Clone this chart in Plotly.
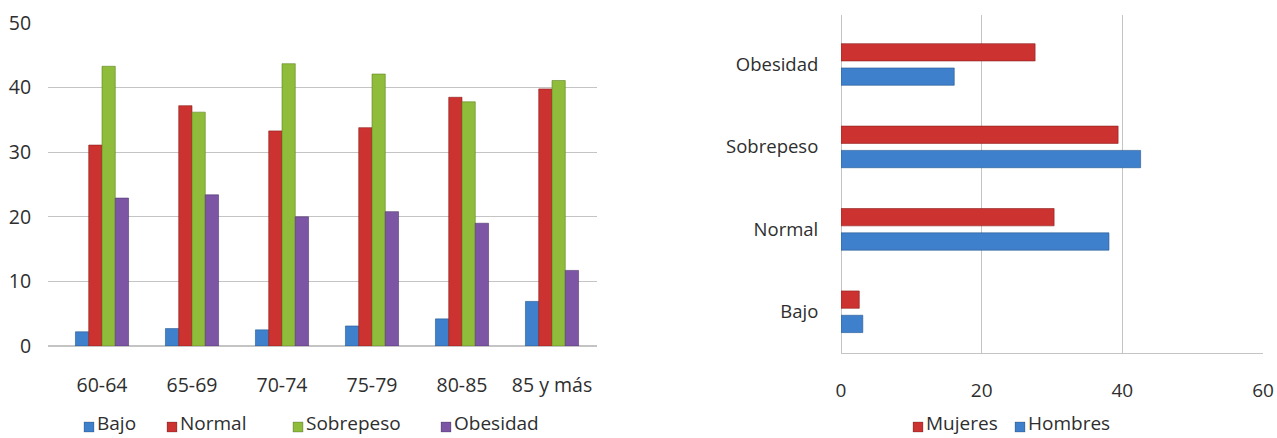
import plotly.graph_objects as go

# ---- Left chart data ----
age_groups = ["60-64", "65-69", "70-74", "75-79", "80-85", "85 y más"]
bajo = [2.2, 2.7, 2.5, 3.1, 4.2, 6.9]
normal = [31.1, 37.2, 33.3, 33.8, 38.5, 39.8]
sobrepeso = [43.3, 36.2, 43.7, 42.1, 37.8, 41.1]
obesidad = [22.9, 23.4, 20.0, 20.8, 19.0, 11.7]

# ---- Right chart data ----
bmi_categories = ["Bajo", "Normal", "Sobrepeso", "Obesidad"]
mujeres = [2.6, 30.3, 39.4, 27.6]
hombres = [3.1, 38.1, 42.6, 16.1]

C_BLUE = "#3f80cc"
C_RED = "#cc3330"
C_GREEN = "#8fbc3b"
C_PURPLE = "#7c56a5"
FONT = "Open Sans"
GRID = "#c4c4c4"
TXT = "#2e2e2e"

W, H = 1277, 438

fig = go.Figure()

left_series = [("Bajo", bajo, C_BLUE, "#24558f"),
               ("Normal", normal, C_RED, "#8c1f1c"),
               ("Sobrepeso", sobrepeso, C_GREEN, "#5f8424"),
               ("Obesidad", obesidad, C_PURPLE, "#50356f")]
for name, vals, col, edge in left_series:
    fig.add_trace(go.Bar(x=age_groups, y=vals, name=name,
                         marker=dict(color=col, line=dict(color=edge, width=0.6)),
                         xaxis="x", yaxis="y", showlegend=False))

right_series = [("Hombres", hombres, C_BLUE, "#24558f"),
                ("Mujeres", mujeres, C_RED, "#8c1f1c")]
for name, vals, col, edge in right_series:
    fig.add_trace(go.Bar(y=bmi_categories, x=vals, name=name, orientation="h", width=0.21,
                         marker=dict(color=col, line=dict(color=edge, width=0.6)),
                         xaxis="x2", yaxis="y2", showlegend=False))

fig.update_layout(
    width=W, height=H,
    margin=dict(l=0, r=0, t=0, b=0, autoexpand=False),
    paper_bgcolor="white", plot_bgcolor="white",
    font=dict(family=FONT, size=19.5, color=TXT),
    barmode="group",
    bargap=0.41, bargroupgap=0,
    xaxis=dict(domain=[48 / W, 597 / W], anchor="y", range=[-0.6, 5.5], automargin=False,
               showgrid=False, showline=False,
               ticks="outside", ticklen=22, tickcolor="rgba(0,0,0,0)", tickfont=dict(size=19.5)),
    yaxis=dict(domain=[(H - 346) / H, (H - 23) / H], anchor="x", range=[0, 50], dtick=10,
               automargin=False,
               showgrid=True, gridcolor=GRID, gridwidth=1, zeroline=True, zerolinecolor=GRID,
               showline=False, ticks="outside", ticklen=12, tickcolor="rgba(0,0,0,0)",
               tickfont=dict(size=19.5)),
    xaxis2=dict(domain=[841 / W, 1263 / W], anchor="y2", range=[0, 60], dtick=20, automargin=False,
                showgrid=True, gridcolor=GRID, zeroline=True, zerolinecolor=GRID, zerolinewidth=1,
                showline=True, linecolor=GRID,
                ticks="outside", ticklen=20, tickcolor="rgba(0,0,0,0)", tickfont=dict(size=19)),
    yaxis2=dict(domain=[(H - 353) / H, (H - 15) / H], anchor="x2", range=[-0.5, 3.6], automargin=False,
                showgrid=False, zeroline=False, showline=False,
                ticks="outside", ticklen=18, tickcolor="rgba(0,0,0,0)", tickfont=dict(size=18.5)),
)

# ---- legends (small square + label, as in the original) ----
legend_left = [("Bajo", C_BLUE, 84), ("Normal", C_RED, 167), ("Sobrepeso", C_GREEN, 293),
               ("Obesidad", C_PURPLE, 441)]
legend_right = [("Mujeres", C_RED, 913), ("Hombres", C_BLUE, 1015)]
SQ_Y = 427
TXT_Y = 423
SQ = 10
for name, col, px in legend_left + legend_right:
    fig.add_shape(type="rect", xref="paper", yref="paper",
                  x0=px / W, x1=(px + SQ) / W, y0=(H - SQ_Y - SQ / 2) / H, y1=(H - SQ_Y + SQ / 2) / H,
                  fillcolor=col, line=dict(color="rgba(0,0,0,0.35)", width=0.6))
    fig.add_annotation(xref="paper", yref="paper", x=(px + SQ + 2) / W, y=(H - TXT_Y) / H,
                       xanchor="left", yanchor="middle", text=name, showarrow=False, borderpad=0,
                       font=dict(size=19, color=TXT))

fig.write_html("out.html", config={"displayModeBar": False},
               post_script="document.body.style.margin='0';document.body.style.overflow='hidden';")
